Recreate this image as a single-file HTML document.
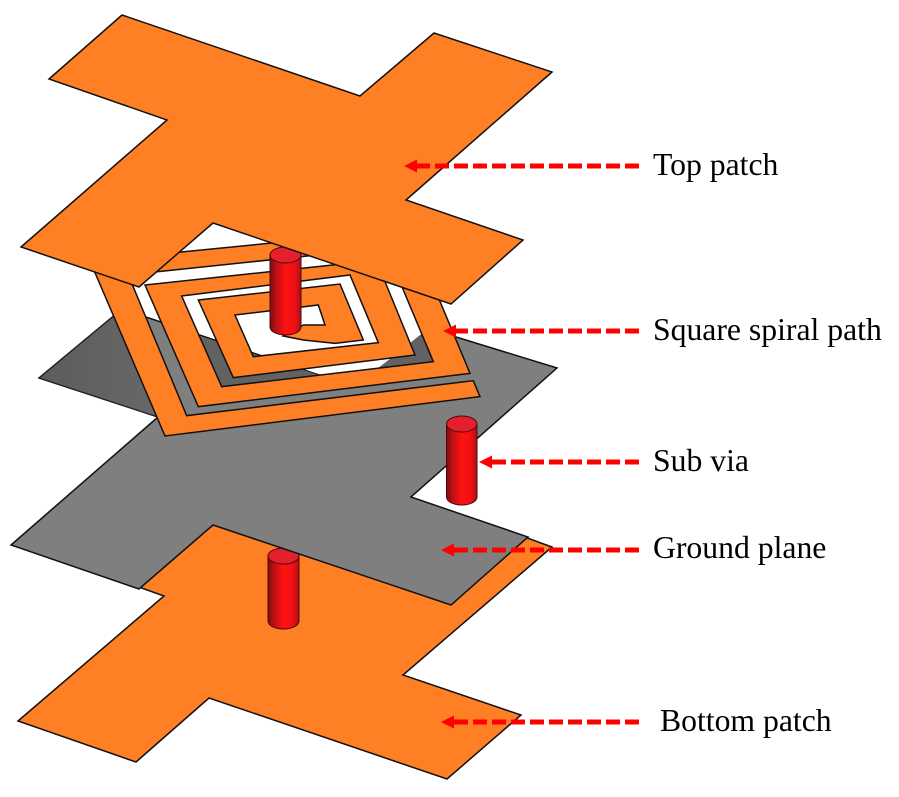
<!DOCTYPE html>
<html>
<head>
<meta charset="utf-8">
<style>
html,body{margin:0;padding:0;background:#fff;width:899px;height:797px;overflow:hidden}
svg{display:block;filter:blur(.3px)}
text{font-family:"Liberation Serif",serif;font-size:31.7px;fill:#000}
.p{fill:#ff7f24;stroke:#111;stroke-width:1.5;stroke-linejoin:miter}
.g{fill:#7f7f7f;stroke:#111;stroke-width:1.5}
.d{stroke:#f00;stroke-width:5;stroke-dasharray:14 5;fill:none}
</style>
</head>
<body>
<svg width="899" height="797" viewBox="0 0 899 797" xmlns="http://www.w3.org/2000/svg">
<defs>
<linearGradient id="c" x1="0" x2="1" y1="0" y2="0">
<stop offset="0" stop-color="#7c0d10"/>
<stop offset=".18" stop-color="#b81014"/>
<stop offset=".5" stop-color="#ff1212"/>
<stop offset=".8" stop-color="#f01014"/>
<stop offset="1" stop-color="#a81015"/>
</linearGradient>
<linearGradient id="dk" x1="0" x2="1" y1="0" y2="0">
<stop offset="0" stop-color="#5c5c5c"/>
<stop offset="1" stop-color="#686868"/>
</linearGradient>
</defs>

<!-- bottom patch -->
<polygon class="p" points="213,525 500,528 552,547 403,675 521,715 447,779 209,698 136,762 18,721 164,596 136,586"/>

<!-- lower via -->
<path d="M268,555 V621 A15.5,8 0 0 0 299,621 V555 Z" fill="url(#c)" stroke="#4a0a0a" stroke-width="1"/>
<ellipse cx="283.5" cy="556" rx="15.5" ry="8" fill="#e5202e" stroke="#4a0a0a" stroke-width="1"/>

<!-- ground plane -->
<polygon class="g" points="122,309 355,387 430,329 557,368 411,497 528,537 451,605 213,525 139,589 11,545 158,417 39,378"/>
<polygon points="39,378 122,309 140,314 165,420 158,417" fill="url(#dk)" stroke="#222" stroke-width="1.2"/>
<polygon points="197,335 355,387 420,335 440,365 222,392" fill="#626262"/>

<!-- spiral -->
<g transform="translate(90,210) scale(.33333)">
<path d="M1170,560 L225,678 L0,153 L960,58 L1140,490 L325,590 L165,225 L859,151 L975,435 L430,503 L325,270 L750,222 L820,390 L735,400 L640,390 L580,378 L640,345 L705,345 L685,285 L435,315 L490,440 L865,398 L780,195 L275,258 L395,530 L1030,455 L940,240 L888,113 L205,185 L115,195 L290,617 L1150,512 Z"
 fill="#ff7f24" stroke="#111" stroke-width="4.5" stroke-linejoin="miter"/>
</g>

<!-- top via -->
<path d="M270,255 V327 A15.5,8 0 0 0 301,327 V255 Z" fill="url(#c)" stroke="#4a0a0a" stroke-width="1"/>
<ellipse cx="285.5" cy="255" rx="15.5" ry="8" fill="#e5202e" stroke="#4a0a0a" stroke-width="1"/>

<!-- sub via -->
<path d="M446.5,424 V497 A15.25,8 0 0 0 477,497 V424 Z" fill="url(#c)" stroke="#4a0a0a" stroke-width="1"/>
<ellipse cx="461.75" cy="424" rx="15.25" ry="8" fill="#e5202e" stroke="#4a0a0a" stroke-width="1"/>

<!-- top patch -->
<polygon class="p" points="122,15 360,96 434,33 552,72 406,200 523,240 451,304 213,223 139,287 21,247 167,120 49,79"/>

<!-- arrows -->
<g>
<line class="d" x1="639" y1="166" x2="415" y2="166"/>
<polygon points="404,166 417,159.5 417,172.5" fill="#f00"/>
<line class="d" x1="639" y1="331" x2="454" y2="331"/>
<polygon points="443,331 456,324.5 456,337.5" fill="#f00"/>
<line class="d" x1="639" y1="462" x2="490" y2="462"/>
<polygon points="479,462 492,455.5 492,468.5" fill="#f00"/>
<line class="d" x1="639" y1="550" x2="452" y2="550"/>
<polygon points="441,550 454,543.5 454,556.5" fill="#f00"/>
<line class="d" x1="639" y1="722" x2="452" y2="722"/>
<polygon points="441,722 454,715.5 454,728.5" fill="#f00"/>
</g>

<!-- labels -->
<text x="653" y="175">Top patch</text>
<text x="653" y="340">Square spiral path</text>
<text x="653" y="471">Sub via</text>
<text x="653" y="558">Ground plane</text>
<text x="660" y="731">Bottom patch</text>
</svg>
</body>
</html>
